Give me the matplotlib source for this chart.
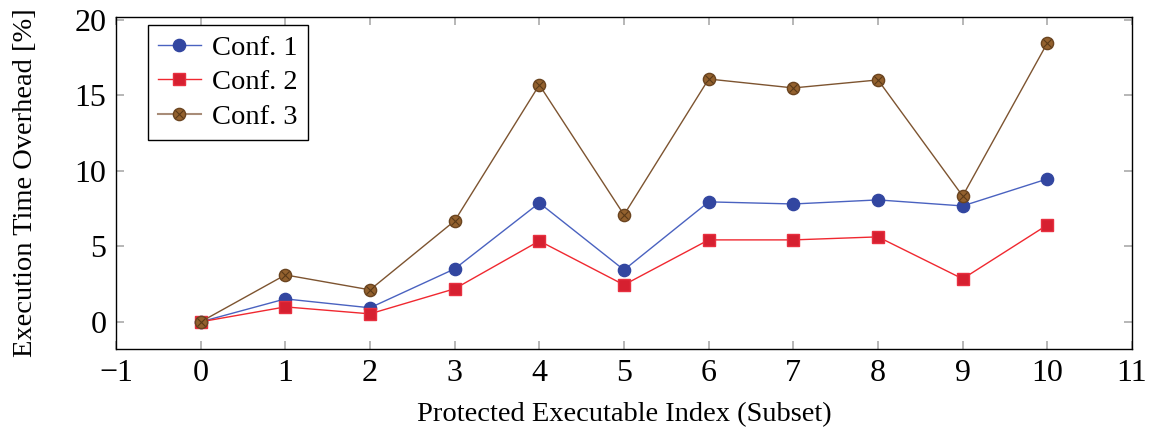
import matplotlib as mpl
mpl.use('Agg')
import matplotlib.pyplot as plt
from matplotlib.lines import Line2D

mpl.rcParams.update({
    "font.family": "serif",
    "font.serif": ["Liberation Serif", "DejaVu Serif"],
})

# data
idx = [0, 1, 2, 3, 4, 5, 6, 7, 8, 9, 10]
conf1 = [0.0, 1.52, 0.93, 3.51, 7.88, 3.44, 7.95, 7.81, 8.08, 7.68, 9.47]
conf2 = [0.0, 0.99, 0.53, 2.19, 5.36, 2.45, 5.43, 5.43, 5.63, 2.85, 6.42]
conf3 = [0.0, 3.11, 2.12, 6.69, 15.70, 7.09, 16.09, 15.50, 16.03, 8.34, 18.48]
labels = ["Conf. 1", "Conf. 2", "Conf. 3"]

W, H = 1151, 429
fig = plt.figure(figsize=(W/100, H/100), dpi=100)
ax = fig.add_axes([116/W, 1-349/H, (1132-116)/W, (349-17)/H])

s1 = dict(color='#4a62c0', lw=1.0, marker='o', ms=8.8, mfc='#3246a0', mec='#3246a0')
s2 = dict(color='#f02830', lw=1.0, marker='s', ms=8.0, mfc='#d62030', mec='#e83040')
s3 = dict(color='#7d5430', lw=1.0, marker='o', ms=8.8, mfc='#93612e', mec='#6a4420')
sx = dict(ls='none', marker='x', ms=5.5, mew=0.8, color='#5a3a18')

ax.plot(idx, conf1, label=labels[0], zorder=3, **s1)
ax.plot(idx, conf2, label=labels[1], zorder=3, **s2)
ax.plot(idx, conf3, label=labels[2], zorder=3, **s3)
ax.plot(idx, conf3, zorder=4, **sx)   # the cross inside the brown circles

ax.set_xlim(-1, 11)
ax.set_ylim(-1.8, 20.2)
ax.set_xticks(range(-1, 12))
ax.set_yticks([0, 5, 10, 15, 20])
ax.set_xticklabels([str(v).replace('-', '\u2212') for v in range(-1, 12)])

ax.tick_params(direction='in', length=6, width=1.2, color='#aaaaaa',
               top=True, right=True, labelsize=23, pad=7)
for s in ax.spines.values():
    s.set_linewidth(1.0)

ax.set_xlabel("Protected Executable Index (Subset)", fontsize=20.5, labelpad=10)
ax.set_ylabel("Execution Time Overhead [%]", fontsize=20.5, labelpad=26)

h1 = Line2D([], [], **s1)
h2 = Line2D([], [], **s2)
h3a = Line2D([], [], **dict(s3, color='#a88c78', lw=1.5))
h3b = Line2D([], [], **sx)
leg = ax.legend([h1, h2, (h3a, h3b)], labels, loc='upper left',
                bbox_to_anchor=(32/1016, 1-8/332), borderaxespad=0, fontsize=20.5,
                frameon=True, fancybox=False, edgecolor='black', framealpha=1,
                handlelength=1.5, handletextpad=0.4, labelspacing=0.3,
                borderpad=0.35)
leg.get_frame().set_linewidth(1.0)

fig.savefig("out.png", dpi=100)
